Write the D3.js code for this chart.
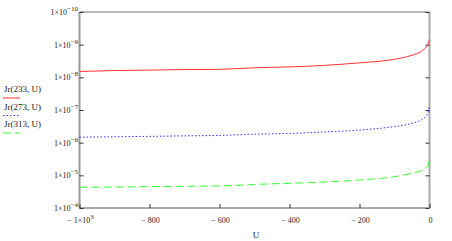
<!DOCTYPE html>
<html lang="en">
<head>
  <meta charset="UTF-8" />
  <title>Jr(T, U)</title>
  <script src="https://d3js.org/d3.v7.min.js"></script>
  <style>
    body { margin: 0; background: #fff; }
    svg { display: block; }
    text { font-family: "Liberation Serif", "Times New Roman", serif; fill: #222; }
    .tick line { stroke: #333; }
    .domain { display: none; }
  </style>
</head>
<body>
  <svg width="452" height="241"></svg>
  <script>
    // values
    const uVals  = [-1000, -900, -800, -700, -600, -500, -400, -300, -200, -100, -50, -20, -5, 0];
    const jr233  = [6.6e-9, 6.2e-9, 6.0e-9, 5.8e-9, 5.7e-9, 5.1e-9, 4.8e-9, 4.3e-9, 3.6e-9, 2.8e-9, 2.1e-9, 1.5e-9, 1.0e-9, 7.0e-10];
    const jr273  = [6.8e-7, 6.6e-7, 6.4e-7, 6.2e-7, 6.0e-7, 5.5e-7, 5.2e-7, 4.7e-7, 4.1e-7, 3.2e-7, 2.55e-7, 1.9e-7, 1.26e-7, 7.9e-8];
    const jr313  = [2.32e-5, 2.28e-5, 2.22e-5, 2.16e-5, 2.12e-5, 1.9e-5, 1.75e-5, 1.6e-5, 1.39e-5, 1.1e-5, 8.6e-6, 6.9e-6, 5.1e-6, 2.7e-6];
    const seriesNames = ["Jr(233, U)", "Jr(273, U)", "Jr(313, U)"];
    const yTicks = [1e-10, 1e-9, 1e-8, 1e-7, 1e-6, 1e-5, 1e-4];
    const yExps  = ["\u221210", "\u22129", "\u22128", "\u22127", "\u22126", "\u22125", "\u22124"];
    const xTicks = [-1000, -800, -600, -400, -200, 0];
    const xLabels = ["\u2212 1\u00d710", "\u2212 800", "\u2212 600", "\u2212 400", "\u2212 200", "0"];

    const svg = d3.select("svg");
    const pLeft = 79.5, pRight = 429.5, pTop = 12, pBottom = 208;

    const x = d3.scaleLinear().domain([-1000, 0]).range([pLeft, pRight]);
    // Mathcad log axis drawn upside down: small values at top
    const y = d3.scaleLog().domain([1e-10, 1e-4]).range([pTop, pBottom]);

    // frame
    svg.append("line").attr("x1", pLeft).attr("x2", pRight).attr("y1", pTop).attr("y2", pTop)
      .attr("stroke", "#777").attr("stroke-width", 1);
    svg.append("line").attr("x1", pLeft).attr("x2", pRight).attr("y1", pBottom).attr("y2", pBottom)
      .attr("stroke", "#555").attr("stroke-width", 1);
    svg.append("line").attr("x1", pLeft).attr("x2", pLeft).attr("y1", pTop).attr("y2", pBottom)
      .attr("stroke", "#999").attr("stroke-width", 2);
    svg.append("line").attr("x1", pRight).attr("x2", pRight).attr("y1", pTop).attr("y2", pBottom)
      .attr("stroke", "#aaa").attr("stroke-width", 2);

    // tick marks
    svg.append("g").attr("transform", `translate(${pLeft},0)`)
      .call(d3.axisRight(y).tickValues(yTicks).tickSize(4).tickFormat(""));
    svg.append("g").attr("transform", `translate(${pRight},0)`)
      .call(d3.axisLeft(y).tickValues(yTicks).tickSize(4).tickFormat(""));
    svg.append("g").attr("transform", `translate(0,${pBottom})`)
      .call(d3.axisTop(x).tickValues(xTicks).tickSize(4).tickFormat(""));

    // y labels with superscripts
    const yl = svg.selectAll("text.ylab").data(yTicks).enter().append("text")
      .attr("class", "ylab")
      .attr("x", 78)
      .attr("y", d => y(d) + 3)
      .attr("text-anchor", "end")
      .style("font-size", "8px");
    yl.append("tspan").text("1\u00d710");
    yl.append("tspan").attr("dy", -4).style("font-size", "7px").text((d, i) => yExps[i]);

    // x labels
    const xl = svg.selectAll("text.xlab").data(xTicks).enter().append("text")
      .attr("class", "xlab")
      .attr("x", d => x(d) + 1)
      .attr("y", 223)
      .attr("text-anchor", "middle")
      .style("font-size", "8px");
    xl.append("tspan").text((d, i) => xLabels[i]);
    xl.filter(d => d === -1000).append("tspan").attr("dy", -4).style("font-size", "7px").text("3");

    svg.append("text").attr("x", 256).attr("y", 238).attr("text-anchor", "middle")
      .style("font-size", "9px").text("U");

    // curves
    const series = [
      { name: seriesNames[0], vals: jr233, color: "#ff3030", dash: null },
      { name: seriesNames[1], vals: jr273, color: "#3030ff", dash: "1.5,2" },
      { name: seriesNames[2], vals: jr313, color: "#30ff30", dash: "8,4" }
    ];

    const line = d3.line()
      .x((d, i) => x(uVals[i]))
      .y(d => y(d))
      .curve(d3.curveMonotoneX);

    svg.selectAll("path.curve").data(series).enter().append("path")
      .attr("class", "curve")
      .attr("d", d => line(d.vals))
      .attr("fill", "none")
      .attr("stroke", d => d.color)
      .attr("stroke-width", 1)
      .attr("stroke-dasharray", d => d.dash);

    // legend
    const lg = svg.selectAll("g.leg").data(series).enter().append("g")
      .attr("class", "leg")
      .attr("transform", (d, i) => `translate(0,${92 + i * 17.5})`);
    lg.append("text").attr("x", 4).attr("y", 0).style("font-size", "9px").text(d => d.name);
    lg.append("line").attr("x1", 3).attr("x2", 20).attr("y1", 6).attr("y2", 6)
      .attr("stroke", d => d.color).attr("stroke-width", 1)
      .attr("stroke-dasharray", d => d.dash);
  </script>
</body>
</html>
